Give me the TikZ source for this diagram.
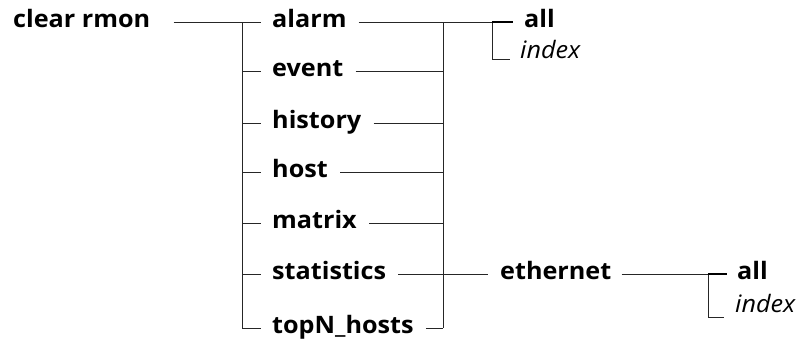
\documentclass[tikz,border=0pt]{standalone}
\usepackage{fontspec}
\setmainfont{Open Sans}[FakeStretch=1.05]
\begin{document}
\begin{tikzpicture}[x=1pt,y=-1pt,
  kw/.style={font=\fontsize{24}{28}\selectfont\bfseries, inner sep=0pt,
             text height=11pt, text depth=0pt, anchor=west},
  arg/.style={font=\fontsize{24}{28}\selectfont\itshape, inner sep=0pt, anchor=base west},
  wire/.style={line width=0.75pt, draw=black!85},
  lead/.style={wire, shorten <=12pt},
  feed/.style={wire, shorten >=11pt},
  heavy/.style={wire, line width=1.4pt, draw=black}]
\useasboundingbox (0,0) rectangle (801,340);

% command root
\node[kw] (root) at (13,22) {clear rmon};

% first-level keywords
\node[kw] (c1) at (272,22)  {alarm};
\node[kw] (c2) at (272,71)  {event};
\node[kw] (c3) at (272,123) {history};
\node[kw] (c4) at (272,172) {host};
\node[kw] (c5) at (272,223) {matrix};
\node[kw] (c6) at (272,274) {statistics};
\node[kw] (c7) at (272,328) {topN\_hosts};

% junction bars
\coordinate (jL)  at (242,22);
\coordinate (jLb) at (242,328);
\coordinate (jR)  at (443,22);
\coordinate (jRb) at (443,328);

\draw[wire, shorten <=23pt] (root.east) -- (jL);
\draw[wire] (jL) -- (jLb);
\draw[wire] (jR) -- (jRb);
\foreach \n in {c1,c2,c3,c4,c5,c6,c7}{
  \draw[feed] (\n.west -| jL) -- (\n.west);
  \draw[lead] (\n.east) -- (\n.east -| jR);
}

% all / index choice after the bar
\coordinate (b1)  at (492,22);
\coordinate (b1b) at (492,59);
\node[kw] (all1) at (524,22) {all};
\node[arg] (idx1) at (520,58) {index};
\draw[wire] (jR) -- (b1) -- (b1b);
\draw[heavy, shorten >=11pt] (b1) -- (all1.west);
\draw[wire, shorten >=10pt] (b1b) -- (b1b -| idx1.west);

% statistics ethernet branch
\node[kw] (eth) at (500,274) {ethernet};
\draw[wire, shorten >=12pt] (c6.east -| jR) -- (eth.west);
\coordinate (b2)  at (708,274);
\coordinate (b2b) at (708,317);
\node[kw] (all2) at (737,274) {all};
\node[arg] (idx2) at (735,312.5) {index};
\draw[wire, shorten <=10pt] (eth.east) -- (b2);
\draw[wire] (b2) -- (b2b);
\draw[heavy, shorten >=10pt] (b2) -- (all2.west);
\draw[wire, shorten >=11pt] (b2b) -- (b2b -| idx2.west);
\end{tikzpicture}
\end{document}
